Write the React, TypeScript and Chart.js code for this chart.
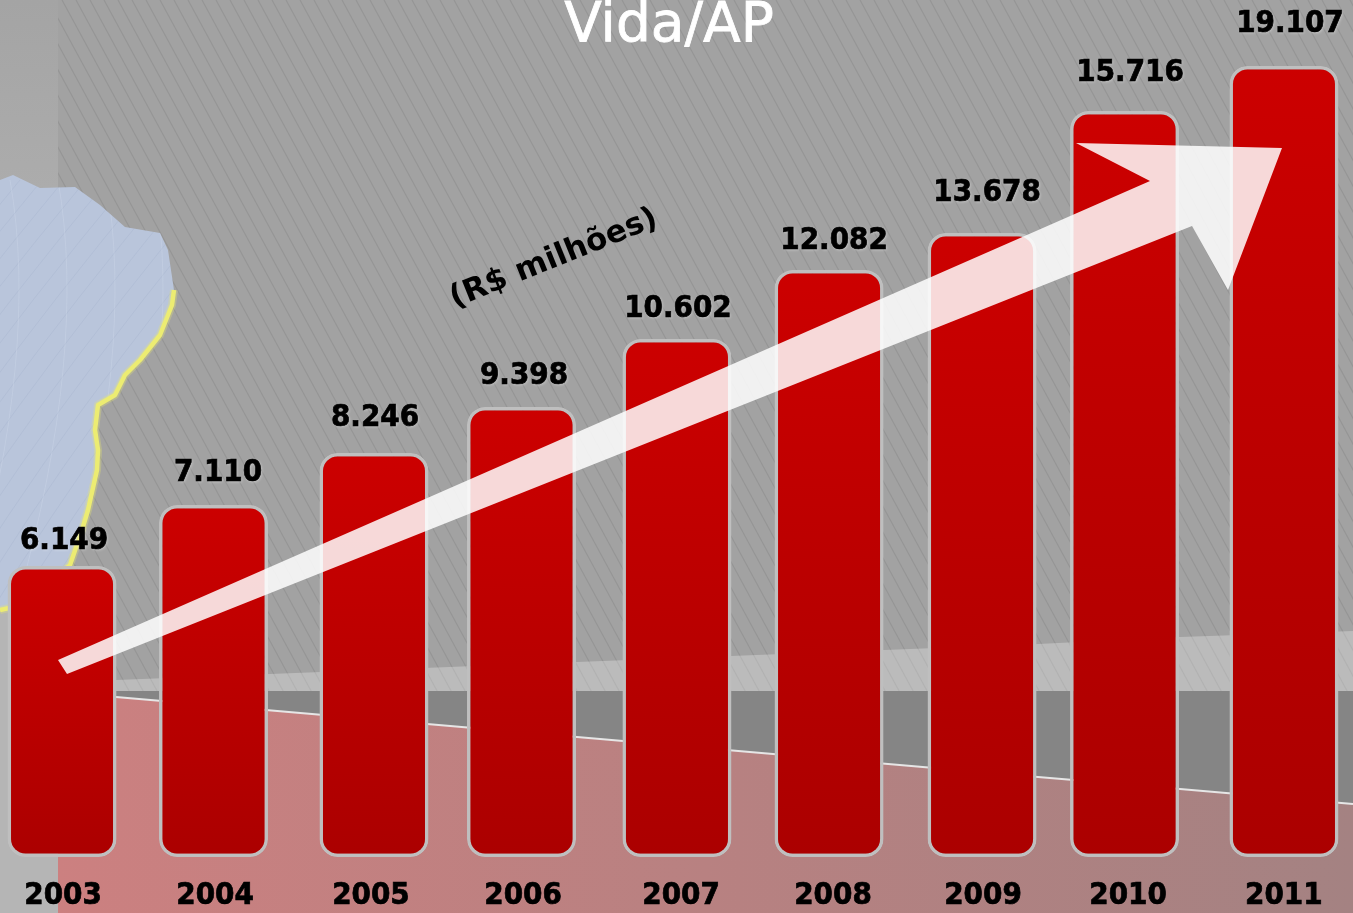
import React, { useEffect, useRef } from "react";
import { Chart, registerables } from "chart.js";

Chart.register(...registerables);

// Years on the x axis
const years = [2003, 2004, 2005, 2006, 2007, 2008, 2009, 2010, 2011];
// Printed labels above the bars (R$ milhões)
const valueLabels = ["6.149", "7.110", "8.246", "9.398", "10.602", "12.082", "13.678", "15.716", "19.107"];
// Bar heights as drawn in the picture (the source is not to scale with its labels)
const drawnHeights = [6191, 7489, 8596, 9574, 11021, 12489, 13277, 15872, 16830];

const titleText = "Vida/AP";
const unitText = "(R$ milhões)";

// Placement tables: the source was hand-laid, so bars and years sit a little off an even grid
const barNudge = [-0.017, -0.023, 0.03, -0.002, 0.018, 0.016, 0.02, -0.045, 0.001];
const tickNudge = [-0.01, -0.013, 0.01, 0.008, 0.045, 0.042, 0.026, -0.022, 0];
const labelDx = [2, 4.5, 1, 2.5, 1, 5, 5, 5.5, 6];
const labelLift = [17, 24, 27, 23, 22, 21, 32, 30, 34];

const W = 1353;
const H = 913;
const LABEL_FONT = 'bold 31px "DejaVu Sans Condensed", "DejaVu Sans", sans-serif';

type P = [number, number];
function poly(ctx: CanvasRenderingContext2D, pts: P[]) {
  ctx.beginPath();
  pts.forEach(([x, y], i) => (i ? ctx.lineTo(x, y) : ctx.moveTo(x, y)));
  ctx.closePath();
}

const coast: P[] = [
  [174, 290], [172, 305], [160, 335], [140, 360], [125, 375], [115, 395], [98, 405],
  [95, 430], [98, 450], [97, 470], [88, 510], [82, 530], [70, 565], [40, 592], [18, 606], [0, 610],
];
const mapNorth: P[] = [
  [0, 180], [13, 175], [40, 188], [75, 187], [100, 205], [125, 227], [160, 233], [168, 250],
];

const backdrop = {
  id: "backdrop",
  beforeDraw(chart: any) {
    const ctx: CanvasRenderingContext2D = chart.ctx;
    ctx.save();
    ctx.fillStyle = "#a2a2a2";
    ctx.fillRect(0, 0, W, H);

    // diagonal hatch
    ctx.strokeStyle = "rgba(0,0,0,0.08)";
    ctx.lineWidth = 1.2;
    for (let x = -400; x < W; x += 14) {
      ctx.beginPath();
      ctx.moveTo(x, 0);
      ctx.lineTo(x + 380, 700);
      ctx.stroke();
    }

    // pale floor band
    poly(ctx, [[58, 682], [116, 680], [1038, 644], [1180, 637], [1353, 631], [1353, 691], [58, 691]]);
    ctx.fillStyle = "rgba(255,255,255,0.27)";
    ctx.fill();

    // dark floor band
    ctx.fillStyle = "#858585";
    ctx.fillRect(58, 691, W - 58, 130);

    // red floor
    const floor: P[] = [[58, 692], [116, 697], [1038, 777], [1180, 789], [1353, 804]];
    poly(ctx, [...floor, [1353, H], [58, H]]);
    const g = ctx.createLinearGradient(58, 0, W, 0);
    g.addColorStop(0, "#cc8080");
    g.addColorStop(1, "#a48282");
    ctx.fillStyle = g;
    ctx.fill();
    ctx.beginPath();
    floor.forEach(([x, y], i) => (i ? ctx.lineTo(x, y) : ctx.moveTo(x, y)));
    ctx.strokeStyle = "#e6e6e6";
    ctx.lineWidth = 2;
    ctx.stroke();

    // left strip
    const s = ctx.createLinearGradient(0, 0, 0, 400);
    s.addColorStop(0, "#a4a4a4");
    s.addColorStop(1, "#b5b5b5");
    ctx.fillStyle = s;
    ctx.fillRect(0, 0, 58, H);

    // map
    poly(ctx, [...mapNorth, ...coast]);
    ctx.fillStyle = "#b9c5db";
    ctx.fill();
    ctx.save();
    ctx.clip();
    ctx.strokeStyle = "rgba(150,165,195,0.2)";
    ctx.lineWidth = 1;
    for (let x = -300; x < 200; x += 22) {
      ctx.beginPath();
      ctx.moveTo(x, 620);
      ctx.quadraticCurveTo(x + 120, 420, x + 320, 180);
      ctx.stroke();
    }
    ctx.strokeStyle = "rgba(225,232,245,0.22)";
    for (let x = 10; x < 170; x += 48) {
      ctx.beginPath();
      ctx.moveTo(x, 180);
      ctx.quadraticCurveTo(x + 30, 350, x - 40, 600);
      ctx.stroke();
    }
    ctx.restore();

    // glowing coast line
    ctx.beginPath();
    coast.forEach(([x, y], i) => (i ? ctx.lineTo(x, y) : ctx.moveTo(x, y)));
    ctx.lineJoin = "round";
    ctx.strokeStyle = "rgba(232,232,110,0.3)";
    ctx.lineWidth = 8;
    ctx.stroke();
    ctx.strokeStyle = "#ecec72";
    ctx.lineWidth = 4.5;
    ctx.stroke();
    ctx.restore();
  },
};

const overlay = {
  id: "overlay",
  afterDatasetsDraw(chart: any) {
    const ctx: CanvasRenderingContext2D = chart.ctx;
    const bars = chart.getDatasetMeta(0).data;
    ctx.save();

    // growth arrow
    poly(ctx, [[58, 660], [1150, 181], [1076, 143], [1282, 148], [1228, 290], [1192, 226], [67, 674]]);
    ctx.fillStyle = "rgba(255,255,255,0.85)";
    ctx.fill();

    // value labels
    ctx.font = LABEL_FONT;
    ctx.textAlign = "center";
    ctx.textBaseline = "alphabetic";
    ctx.fillStyle = "#000000";
    ctx.shadowColor = "rgba(255,255,255,0.4)";
    ctx.shadowBlur = 3;
    ctx.shadowOffsetX = 1;
    ctx.shadowOffsetY = 1;
    bars.forEach((b: any, i: number) => {
      ctx.fillText(valueLabels[i], b.x + labelDx[i], b.y - labelLift[i]);
    });
    ctx.shadowColor = "transparent";
    ctx.strokeStyle = "#000000";
    ctx.lineWidth = 0.7;
    bars.forEach((b: any, i: number) => {
      ctx.strokeText(valueLabels[i], b.x + labelDx[i], b.y - labelLift[i]);
    });

    // unit note
    ctx.save();
    ctx.translate(554, 259);
    ctx.rotate((-22 * Math.PI) / 180);
    ctx.font = 'bold 31px "DejaVu Sans", sans-serif';
    ctx.fillStyle = "#000000";
    ctx.textBaseline = "middle";
    ctx.fillText(unitText, 0, 0);
    ctx.restore();

    // title
    ctx.font = '55px "DejaVu Sans", sans-serif';
    ctx.fillStyle = "#ffffff";
    ctx.strokeStyle = "#ffffff";
    ctx.lineWidth = 0.8;
    ctx.textAlign = "center";
    ctx.textBaseline = "alphabetic";
    ctx.fillText(titleText, 669, 41);
    ctx.strokeText(titleText, 669, 41);
    ctx.restore();
  },
};

export default function App() {
  const ref = useRef<HTMLCanvasElement>(null);
  useEffect(() => {
    const chart = new Chart(ref.current!, {
      type: "bar",
      data: {
        datasets: [
          {
            label: "Vida/AP",
            data: years.map((y, i) => ({ x: y + barNudge[i], y: drawnHeights[i] })),
            barThickness: 109,
            borderWidth: 3.5,
            borderColor: "#bfbfbf",
            borderRadius: 18,
            borderSkipped: false,
            inflateAmount: 0,
            backgroundColor: (c: any) => {
              const sc = c.chart.scales.y;
              const raw = c.raw;
              if (!sc || !raw) return "#bb0000";
              const top = sc.getPixelForValue(raw.y);
              const bottom = sc.getPixelForValue(0);
              if (!Number.isFinite(top) || !Number.isFinite(bottom)) return "#bb0000";
              const g = c.chart.ctx.createLinearGradient(0, top, 0, bottom);
              g.addColorStop(0, "#cc0000");
              g.addColorStop(1, "#ab0000");
              return g;
            },
          },
        ],
      },
      options: {
        responsive: false,
        animation: false,
        layout: { padding: 0 },
        plugins: { legend: { display: false }, tooltip: { enabled: false }, title: { display: false } },
        scales: {
          x: {
            type: "linear",
            offset: false,
            min: 2002.576,
            max: 2011.454,
            grid: { display: false },
            border: { display: false },
            afterFit: (s: any) => {
              s.height = 56;
            },
            afterBuildTicks: (s: any) => {
              s.ticks = years.map((y, i) => ({ value: y + tickNudge[i] }));
            },
            ticks: {
              stepSize: 1,
              includeBounds: false,
              autoSkip: false,
              maxRotation: 0,
              padding: 12,
              color: "#000000",
              textStrokeColor: "#000000",
              textStrokeWidth: 0.7,
              font: { family: '"DejaVu Sans Condensed", "DejaVu Sans", sans-serif', size: 31, weight: "bold" },
              callback: (_v: any, i: number) => String(years[i]),
            },
          },
          y: { display: false, min: 0, max: 18234 },
        },
      },
      plugins: [backdrop, overlay],
    } as any);
    return () => chart.destroy();
  }, []);
  return (
    <div style={{ position: "absolute", left: 0, top: 0, width: W, height: H, overflow: "hidden" }}>
      <canvas ref={ref} width={W} height={H} style={{ display: "block" }} />
    </div>
  );
}
